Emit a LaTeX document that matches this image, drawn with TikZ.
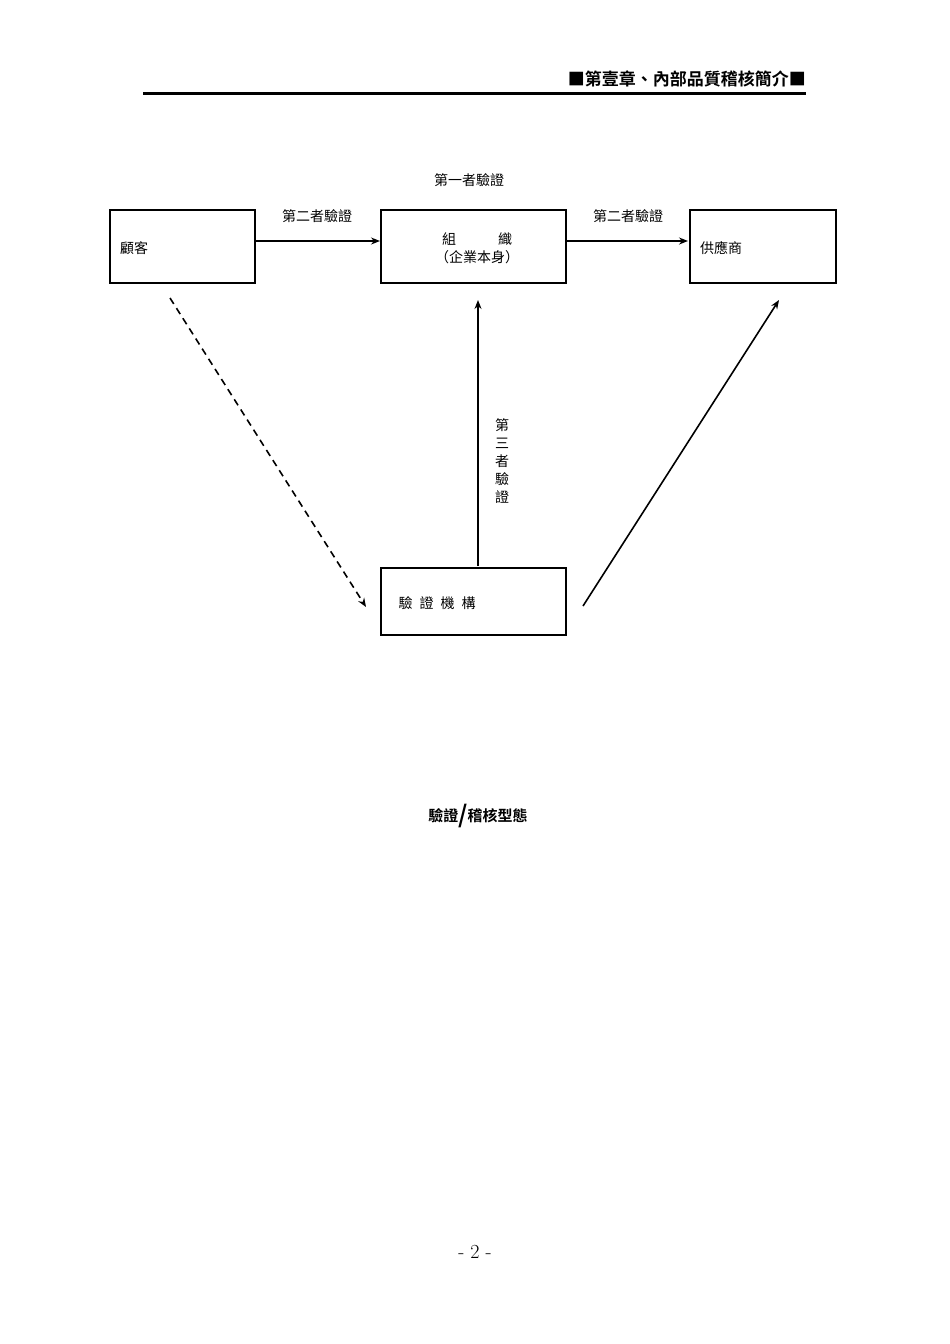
\documentclass[tikz,border=0pt]{standalone}
\usepackage{fontspec}
\newfontfamily\cjk{Noto Sans CJK TC}
\newfontfamily\cjkb{Noto Sans CJK TC Bold}
\usetikzlibrary{arrows.meta}
\begin{document}
\begin{tikzpicture}[x=1pt,y=-1pt,
 box/.style={draw,line width=1.8pt},
 lbl/.style={font=\cjk\fontsize{14}{16}\selectfont,inner sep=0pt},
 arr/.style={line width=1.6pt,-{Stealth[length=9pt,width=7pt,inset=3pt]}}]
\useasboundingbox (0,0) rectangle (950,1344);
\node[inner sep=0pt,anchor=east,font=\cjkb\fontsize{17}{19}\selectfont] (hdr) at (806,79) {■第壹章、內部品質稽核簡介■};
\draw[line width=3pt] (143,93) -- (806,93);
\node[lbl] (first) at (469,180) {第一者驗證};
\draw[box] (110,210) rectangle (255,283); \coordinate (c) at (182.5,246.5);
\draw[box] (381,210) rectangle (566,283);
\draw[box] (690,210) rectangle (836,283);
\draw[box] (381,568) rectangle (566,635);
\node[lbl,anchor=west] (gk) at (120,248) {顧客};
\node[lbl] (org1) at (477,239) {組\hspace{3em}織};
\node[lbl] (org2) at (477,257) {（企業本身）};
\node[lbl,anchor=west] (sup) at (700,248) {供應商};
\node[lbl] (cert) at (437,603) {驗\hspace{0.5em}證\hspace{0.5em}機\hspace{0.5em}構};
\coordinate (a1) at (256,241); \coordinate (a2) at (380,241);
\coordinate (b1) at (567,241); \coordinate (b2) at (688,241);
\draw[arr] (a1) -- (a2);
\draw[arr] (b1) -- (b2);
\node[lbl] (l1) at (317,216) {第二者驗證};
\node[lbl] (l2) at (628,216) {第二者驗證};
\coordinate (v1) at (478,566); \coordinate (v2) at (478,300);
\draw[arr] (v1) -- (v2);
\node[lbl,align=center,font=\cjk\fontsize{14}{18}\selectfont] (l3) at (502,461) {第\\三\\者\\驗\\證};
\coordinate (d1) at (170,298); \coordinate (d2) at (366,607);
\draw[arr,dash pattern=on 7pt off 5pt] (d1) -- (d2);
\coordinate (s1) at (583,606); \coordinate (s2) at (779,300);
\draw[arr] (s1) -- (s2);
\node[inner sep=0pt,font=\cjkb\fontsize{15}{17}\selectfont] (cap) at (478,816) {驗證\raisebox{-2pt}{\fontsize{24}{24}\selectfont/}稽核型態};
\node[inner sep=0pt,font=\fontsize{20}{22}\selectfont] (pg) at (475,1252) {- 2 -};
\end{tikzpicture}
\end{document}
